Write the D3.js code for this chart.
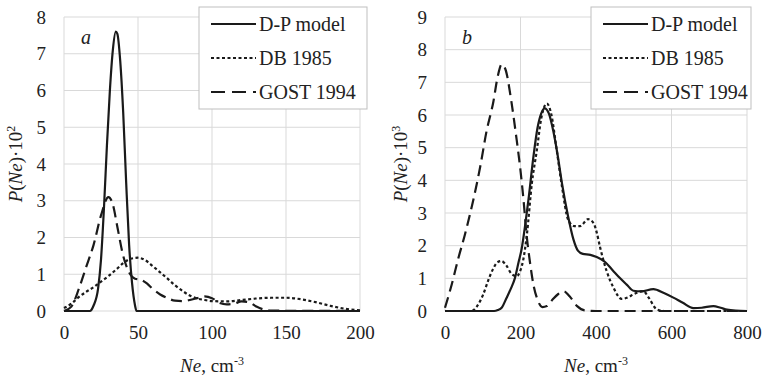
<!DOCTYPE html>
<html>
<head>
<meta charset="utf-8">
<script src="https://cdn.jsdelivr.net/npm/d3@7"></script>
</head>
<body style="margin:0">
<script>
// panel a : Ne up to 200, P(Ne)*10^2
var aDpNe  = [0, 17.5, 20, 23, 25, 27, 29, 31, 33, 35, 36, 38, 40, 42, 44, 46, 48, 49, 200];
var aDpP   = [0, 0, 0.15, 0.6, 1.4, 2.8, 4.5, 6.0, 7.1, 7.6, 7.55, 6.8, 5.4, 3.5, 1.8, 0.75, 0.15, 0, 0];

var aDbNe  = [0, 5, 10, 15, 20, 25, 30, 35, 40, 45, 50, 55, 60, 65, 70, 75, 80, 85, 90, 95, 100, 110, 120, 130, 140, 150, 160, 170, 180, 190, 200];
var aDbP   = [0.08, 0.2, 0.38, 0.52, 0.65, 0.8, 0.95, 1.12, 1.3, 1.42, 1.45, 1.38, 1.22, 1.05, 0.88, 0.7, 0.55, 0.42, 0.34, 0.3, 0.27, 0.26, 0.3, 0.34, 0.36, 0.36, 0.32, 0.24, 0.14, 0.06, 0.02];

var aGostNe = [0, 5, 10, 15, 20, 25, 30, 33, 36, 40, 44, 48, 52, 56, 60, 65, 70, 75, 80, 85, 90, 95, 100, 105, 110, 115, 120, 125, 130, 135, 140, 200];
var aGostP  = [0, 0.12, 0.6, 1.2, 1.8, 2.6, 3.1, 2.9, 2.3, 1.5, 1.05, 0.88, 0.85, 0.75, 0.6, 0.45, 0.35, 0.28, 0.27, 0.3, 0.35, 0.4, 0.35, 0.22, 0.18, 0.2, 0.26, 0.24, 0.12, 0.04, 0.01, 0];

// panel b : Ne up to 800, P(Ne)*10^3
var bDpNe  = [0, 130, 140, 150, 163, 175, 185, 195, 203, 212, 221, 234, 245, 255, 264, 275, 287, 298, 310, 326, 340, 352, 365, 385, 402, 424, 444, 464, 482, 499, 520, 552, 580, 605, 630, 658, 680, 711, 730, 747, 770, 800];
var bDpP   = [0, 0, 0.03, 0.1, 0.4, 0.7, 1.0, 1.5, 1.9, 2.6, 3.4, 4.7, 5.6, 6.05, 6.2, 6.05, 5.5, 4.8, 3.9, 2.9, 2.2, 1.85, 1.75, 1.72, 1.65, 1.5, 1.25, 1.0, 0.8, 0.62, 0.6, 0.67, 0.55, 0.41, 0.25, 0.09, 0.1, 0.15, 0.1, 0.04, 0.01, 0];

var bDbNe  = [0, 70, 85, 101, 115, 127, 140, 150, 162, 177, 190, 200, 207, 217, 230, 243, 255, 270, 282, 295, 310, 326, 342, 358, 379, 393, 402, 411, 428, 446, 468, 485, 499, 525, 540, 561, 580, 800];
var bDbP   = [0, 0, 0.15, 0.5, 0.95, 1.28, 1.5, 1.53, 1.4, 1.13, 1.07, 1.25, 1.55, 2.35, 3.9, 4.9, 5.9, 6.35, 6.0, 5.0, 3.8, 2.8, 2.6, 2.6, 2.81, 2.7, 2.4, 1.94, 1.23, 0.72, 0.37, 0.42, 0.51, 0.61, 0.4, 0.05, 0, 0];

var bGostNe = [0, 18, 35, 53, 75, 93, 110, 128, 140, 150, 160, 176, 188, 199, 208, 216, 225, 234, 245, 258, 270, 285, 300, 315, 330, 350, 370, 400, 800];
var bGostP  = [0.1, 0.82, 1.6, 2.35, 3.4, 4.4, 5.5, 6.4, 7.2, 7.55, 7.4, 6.4, 5.4, 4.4, 3.4, 2.35, 1.5, 0.82, 0.35, 0.12, 0.15, 0.35, 0.52, 0.6, 0.45, 0.15, 0.02, 0, 0];

var seriesNames = ["D-P model", "DB 1985", "GOST 1994"];
var aXTicks = [0, 50, 100, 150, 200];
var aYTicks = [0, 1, 2, 3, 4, 5, 6, 7, 8];
var bXTicks = [0, 200, 400, 600, 800];
var bYTicks = [0, 1, 2, 3, 4, 5, 6, 7, 8, 9];

var W = 763, H = 376;
var FONT = "Liberation Serif, Times New Roman, Tinos, serif";
var dashes = [null, "3,2.5", "11,6"];
var legendDashes = [null, "3,2.5", "14,7"];

var svg = d3.select("body").append("svg")
    .attr("width", W).attr("height", H)
    .attr("font-family", FONT);

function serif(sel, size) {
    return sel
        .attr("font-family", FONT)
        .attr("font-size", size)
        .attr("fill", "#222");
}

function drawPanel(opt) {
    var g = svg.append("g");
    var x = d3.scaleLinear().domain([0, opt.xMax]).range([opt.left, opt.right]);
    var y = d3.scaleLinear().domain([0, opt.yMax]).range([opt.bottom, opt.top]);

    // gridlines
    g.append("g").selectAll("line")
        .data(opt.yTicks).enter().append("line")
        .attr("x1", opt.left).attr("x2", opt.right)
        .attr("y1", d => y(d)).attr("y2", d => y(d))
        .attr("stroke", "#d9d9d9").attr("stroke-width", 1);
    g.append("g").selectAll("line")
        .data(opt.xTicks).enter().append("line")
        .attr("y1", opt.top).attr("y2", opt.bottom)
        .attr("x1", d => x(d)).attr("x2", d => x(d))
        .attr("stroke", "#d9d9d9").attr("stroke-width", 1);

    // axes (labels only)
    var xAxis = g.append("g")
        .attr("transform", "translate(0," + opt.bottom + ")")
        .call(d3.axisBottom(x).tickValues(opt.xTicks).tickSize(0).tickPadding(15));
    var yAxis = g.append("g")
        .attr("transform", "translate(" + opt.left + ",0)")
        .call(d3.axisLeft(y).tickValues(opt.yTicks).tickSize(0).tickPadding(18));
    [xAxis, yAxis].forEach(function (a) {
        serif(a, 19);
        a.select(".domain").remove();
        serif(a.selectAll("text"), 19);
    });

    // curves
    var line = d3.line()
        .x(d => x(d[0])).y(d => y(d[1]))
        .curve(d3.curveMonotoneX);
    opt.series.forEach(function (s, i) {
        var pts = s[0].map((v, k) => [v, s[1][k]]);
        g.append("path")
            .datum(pts)
            .attr("d", line)
            .attr("fill", "none")
            .attr("stroke", "#1a1a1a")
            .attr("stroke-width", 2.2)
            .attr("stroke-dasharray", dashes[i]);
    });

    // legend
    var lg = g.append("g");
    lg.append("rect")
        .attr("x", opt.legX).attr("y", 7)
        .attr("width", opt.legW).attr("height", 102)
        .attr("fill", "#fff").attr("stroke", "#bfbfbf");
    seriesNames.forEach(function (name, i) {
        var yy = 24 + i * 34;
        lg.append("line")
            .attr("x1", opt.legX + 12).attr("x2", opt.legX + 57)
            .attr("y1", yy).attr("y2", yy)
            .attr("stroke", "#1a1a1a").attr("stroke-width", 2.2)
            .attr("stroke-dasharray", legendDashes[i]);
        serif(lg.append("text"), 20)
            .attr("x", opt.legX + 60).attr("y", yy + 7)
            .text(name);
    });

    // panel letter
    serif(g.append("text"), 20)
        .attr("x", opt.left + 17).attr("y", 44)
        .attr("font-style", "italic")
        .text(opt.letter);

    // x title
    var xt = serif(g.append("text"), 19)
        .attr("x", (opt.left + opt.right) / 2).attr("y", 372)
        .attr("text-anchor", "middle");
    xt.append("tspan").attr("font-style", "italic").text("Ne");
    xt.append("tspan").text(", cm");
    xt.append("tspan").attr("dy", -7).attr("font-size", 12).text("-3");

    // y title
    var yt = serif(g.append("text"), 19)
        .attr("transform", "translate(" + opt.yTitleX + "," + ((opt.top + opt.bottom) / 2) + ") rotate(-90)")
        .attr("text-anchor", "middle");
    yt.append("tspan").attr("font-style", "italic").text("P");
    yt.append("tspan").text("(");
    yt.append("tspan").attr("font-style", "italic").text("Ne");
    yt.append("tspan").text(")·10");
    yt.append("tspan").attr("dy", -7).attr("font-size", 12).text(opt.power);
}

drawPanel({
    left: 64, right: 360, top: 17, bottom: 311,
    xMax: 200, yMax: 8, xTicks: aXTicks, yTicks: aYTicks,
    series: [[aDpNe, aDpP], [aDbNe, aDbP], [aGostNe, aGostP]],
    legX: 199, legW: 168, letter: "a", power: "2", yTitleX: 22
});

drawPanel({
    left: 445, right: 747, top: 17, bottom: 311,
    xMax: 800, yMax: 9, xTicks: bXTicks, yTicks: bYTicks,
    series: [[bDpNe, bDpP], [bDbNe, bDbP], [bGostNe, bGostP]],
    legX: 591, legW: 160, letter: "b", power: "3", yTitleX: 407
});

// re-apply the font once the font set reports ready, to force a re-layout
if (document.fonts && document.fonts.ready) {
    document.fonts.ready.then(function () {
        svg.selectAll("text").attr("font-family", "Liberation Serif");
    });
}
</script>
</body>
</html>
